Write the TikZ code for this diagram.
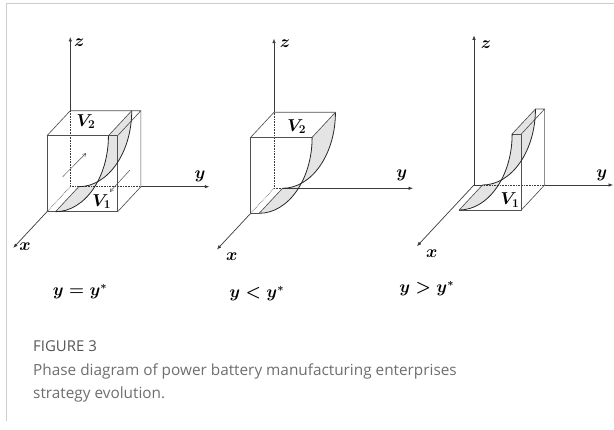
\documentclass[tikz,border=0pt]{standalone}
\usepackage{fontspec}
\newfontfamily\capfont{Open Sans}
\usetikzlibrary{arrows.meta}
\definecolor{axisc}{HTML}{3A3A3A}
\definecolor{edgec}{HTML}{505050}
\definecolor{shadec}{HTML}{E4E4E4}
\definecolor{capgray}{HTML}{6E6E6E}
\definecolor{figgray}{HTML}{555555}
\definecolor{framec}{HTML}{CCCCCC}
\def\ya{0.12}
\def\yb{0.87}
\def\yc{0.534}
\def\zc{0.448}
\tikzset{
  axisline/.style={draw=axisc, line width=0.7bp},
  axisarrow/.style={axisline, -{Latex[length=4.5bp,width=3.5bp]}},
  hiddenline/.style={draw=axisc, line width=0.6bp, densely dotted},
  edgeline/.style={draw=edgec, line width=0.65bp, line join=round},
  curveline/.style={draw=black!85, line width=0.8bp},
  surf/.style={fill=shadec},
  axlabel/.style={font=\boldmath\fontsize{18}{18}\selectfont, inner sep=0pt},
  vlabel/.style={font=\boldmath\fontsize{18}{18}\selectfont, inner sep=0pt},
  condlabel/.style={font=\boldmath\fontsize{16}{16}\selectfont, inner sep=0pt},
  flowarrow/.style={draw=edgec, line width=0.5bp, -{To[length=3.5bp,width=4bp]}},
  panel/.style={x={(-23.3bp,-25bp)}, y={(70.6bp,0bp)}, z={(0bp,76bp)}},
}
\begin{document}
\begin{tikzpicture}[x=1bp,y=1bp]
\useasboundingbox (0,0) rectangle (614,429);
% frame
\draw[framec, line width=0.8bp] (6.5,8) -- (6.5,425.7) -- (614,425.7);

% ---------- panel 1 ----------
\begin{scope}[shift={(70.3bp,242.3bp)}, panel]
  \fill[surf] (1,\ya,0) .. controls (1,\yc,0) and (1,\yb,\zc) .. (1,\yb,1) -- (0,\yb,1)
     .. controls (0,\yb,\zc) and (0,\yc,0) .. (0,\ya,0) -- cycle;
  \draw[hiddenline] (0,0,0) -- (0,0,1);
  \draw[hiddenline] (0,0,0) -- (0,1,0);
  \draw[hiddenline] (0,0,0) -- (1,0,0);
  \draw[axisarrow] (0,0,1) -- (0,0,1.97);
  \draw[axisarrow] (0,1,0) -- (0,1.97,0);
  \draw[axisarrow] (1,0,0) -- (2.45,0,0);
  \draw[edgeline] (1,0,0) -- (1,1,0) -- (1,1,1) -- (1,0,1) -- cycle;
  \draw[edgeline] (1,0,1) -- (0,0,1) -- (0,1,1) -- (1,1,1);
  \draw[edgeline] (1,1,0) -- (0,1,0) -- (0,1,1);
  \draw[curveline] (1,\ya,0) .. controls (1,\yc,0) and (1,\yb,\zc) .. (1,\yb,1);
  \draw[curveline] (0,\ya,0) .. controls (0,\yc,0) and (0,\yb,\zc) .. (0,\yb,1);
  \draw[edgeline] (1,\ya,0) -- (0,\ya,0);
  \draw[edgeline] (1,\yb,1) -- (0,\yb,1);
\end{scope}
\coordinate (a1s) at (62.7,252.3);
\coordinate (a1e) at (86,275.7);
\coordinate (a2s) at (130,259);
\coordinate (a2e) at (110,237.3);
\draw[flowarrow] (a1s) -- (a1e);
\draw[flowarrow] (a2s) -- (a2e);
\node[axlabel] (z1) at (79.3,386.3) {$z$};
\node[axlabel] (y1) at (200,252.3) {$y$};
\node[axlabel] (x1) at (25,182.3) {$x$};
\node[vlabel] (v21) at (86,307.3) {$V_2$};
\node[vlabel] (v11) at (101.7,227.3) {$V_1$};

% ---------- panel 2 ----------
\begin{scope}[shift={(274bp,240.7bp)}, panel]
  \fill[surf] (1,\ya,0) .. controls (1,\yc,0) and (1,\yb,\zc) .. (1,\yb,1) -- (0,\yb,1)
     .. controls (0,\yb,\zc) and (0,\yc,0) .. (0,\ya,0) -- cycle;
  \draw[hiddenline] (0,0,0) -- (0,0,1);
  \draw[hiddenline] (0,0,0) -- (1,0,0);
  \draw[hiddenline] (0,0,0) -- (0,\ya,0);
  \draw[axisarrow] (0,0,1) -- (0,0,1.97);
  \draw[axisarrow] (0,\ya,0) -- (0,1.97,0);
  \draw[axisarrow] (1,0,0) -- (2.45,0,0);
  \draw[edgeline] (1,\ya,0) -- (1,0,0) -- (1,0,1) -- (1,\yb,1);
  \draw[edgeline] (1,0,1) -- (0,0,1) -- (0,\yb,1);
  \draw[curveline] (1,\ya,0) .. controls (1,\yc,0) and (1,\yb,\zc) .. (1,\yb,1);
  \draw[curveline] (0,\ya,0) .. controls (0,\yc,0) and (0,\yb,\zc) .. (0,\yb,1);
  \draw[edgeline] (1,\ya,0) -- (0,\ya,0);
  \draw[edgeline] (1,\yb,1) -- (0,\yb,1);
\end{scope}
\node[axlabel] (z2) at (285,385) {$z$};
\node[axlabel] (y2) at (401.7,254) {$y$};
\node[axlabel] (x2) at (231.7,172.3) {$x$};
\node[vlabel] (v22) at (296.7,302.3) {$V_2$};

% ---------- panel 3 ----------
\begin{scope}[shift={(474bp,244bp)}, panel]
  \fill[surf] (1,\ya,0) .. controls (1,\yc,0) and (1,\yb,\zc) .. (1,\yb,1) -- (0,\yb,1)
     .. controls (0,\yb,\zc) and (0,\yc,0) .. (0,\ya,0) -- cycle;
  \draw[axisline] (0,0,0) -- (0,\ya,0);
  \draw[hiddenline] (0,\ya,0) -- (0,1,0);
  \draw[axisarrow] (0,0,0) -- (0,0,1.97);
  \draw[axisarrow] (0,1,0) -- (0,1.97,0);
  \draw[axisarrow] (0,0,0) -- (2.45,0,0);
  \draw[edgeline] (1,\ya,0) -- (1,1,0) -- (1,1,1) -- (1,\yb,1);
  \draw[edgeline] (1,\yb,1) -- (0,\yb,1) -- (0,1,1) -- (1,1,1);
  \draw[edgeline] (1,1,0) -- (0,1,0) -- (0,1,1);
  \draw[curveline] (1,\ya,0) .. controls (1,\yc,0) and (1,\yb,\zc) .. (1,\yb,1);
  \draw[curveline] (0,\ya,0) .. controls (0,\yc,0) and (0,\yb,\zc) .. (0,\yb,1);
  \draw[edgeline] (1,\ya,0) -- (0,\ya,0);
\end{scope}
\node[axlabel] (z3) at (486,384) {$z$};
\node[axlabel] (y3) at (601.7,254) {$y$};
\node[axlabel] (x3) at (431.7,175.7) {$x$};
\node[vlabel] (v13) at (510,229) {$V_1$};

% ---------- conditions ----------
\node[condlabel] (c1) at (80,137.3) {$y=y^{*}$};
\node[condlabel] (c2) at (256.7,135.7) {$y<y^{*}$};
\node[condlabel] (c3) at (426.7,140.7) {$y>y^{*}$};

% ---------- caption ----------
\node[anchor=base west, inner sep=0pt, text=figgray, font=\capfont\fontsize{15}{15}\selectfont] (fig) at (33,77.3) {FIGURE 3};
\node[anchor=base west, inner sep=0pt, text=capgray, font=\capfont\fontsize{15.4}{15.4}\selectfont] (cap1) at (33,54) {Phase diagram of power battery manufacturing enterprises};
\node[anchor=base west, inner sep=0pt, text=capgray, font=\capfont\fontsize{15.4}{15.4}\selectfont] (cap2) at (33,30.7) {strategy evolution.};
\end{tikzpicture}
\end{document}
